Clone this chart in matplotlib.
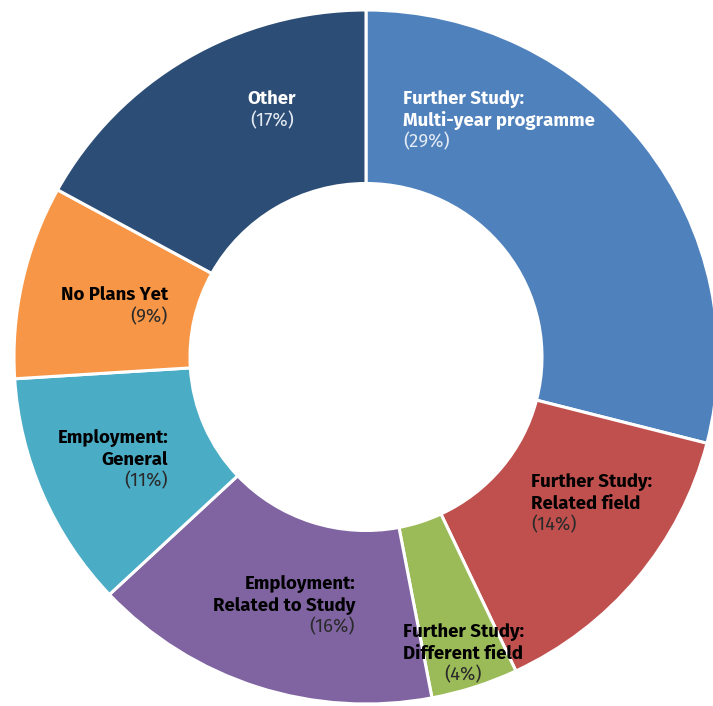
import matplotlib
matplotlib.use("Agg")
import matplotlib.pyplot as plt

categories = ["Further Study:\nMulti-year programme", "Further Study:\nRelated field",
              "Further Study:\nDifferent field", "Employment:\nRelated to Study",
              "Employment:\nGeneral", "No Plans Yet", "Other"]
values = [29, 14, 4, 16, 11, 9, 17]
colors = ["#4F81BD", "#C0504D", "#9BBB59", "#8064A2", "#4BACC6", "#F79646", "#2C4D75"]

W, H = 713, 706
cx, cy = 366, 357
Rx, Ry = 352, 347

fig = plt.figure(figsize=(W / 100, H / 100), dpi=100)
ax = fig.add_axes([0, 0, 1, 1])

ax.pie(values, colors=colors, startangle=90, counterclock=False, radius=1,
       wedgeprops=dict(width=0.5, edgecolor="white", linewidth=2.2))
ax.set_aspect("auto")
ax.set_xlim(-cx / Rx, (W - cx) / Rx)
ax.set_ylim(-(H - cy) / Ry, cy / Ry)
ax.axis("off")

# label layout: (x px, first-line y px, ha, dark background?)
layout = [(403, 99, "left", True), (531, 482, "left", False), (463, 632, "center", False),
          (355, 584, "right", False), (168, 438, "right", False), (168, 295, "right", False),
          (272, 99, "center", True)]
step = 21.5
fam = ["Fira Sans", "Lato", "DejaVu Sans"]
for cat, v, (px, py, ha, dark) in zip(categories, values, layout):
    lines = cat.split("\n")
    bcol = "white" if dark else "black"
    pcol = "#E4EAF3" if dark else "#2a2a2a"
    X = (px - cx) / Rx
    for i, ln in enumerate(lines):
        ax.text(X, (cy - (py + i * step)) / Ry, ln, ha=ha, va="center",
                fontsize=13.4, fontweight="bold", color=bcol, family=fam)
    ax.text(X, (cy - (py + len(lines) * step)) / Ry, f"({v}%)", ha=ha, va="center",
            fontsize=13.4, fontweight="normal", color=pcol, family=fam)

fig.savefig("out.png", dpi=100)
